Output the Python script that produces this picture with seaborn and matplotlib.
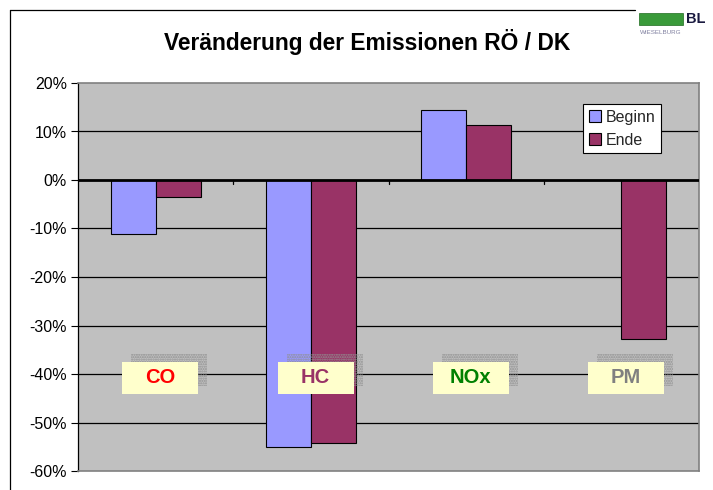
import matplotlib
matplotlib.use("Agg")
import matplotlib.pyplot as plt
from matplotlib.patches import Rectangle
from matplotlib.lines import Line2D
import seaborn as sns
import pandas as pd

categories = ["CO", "HC", "NOx", "PM"]
beginn = [-11.1, -55.1, 14.4, 0.0]
ende = [-3.6, -54.3, 11.3, -32.7]
series_names = ["Beginn", "Ende"]
series_colors = ["#9999FF", "#993366"]
label_colors = ["#FF0000", "#993366", "#008000", "#808080"]
yticks = [20, 10, 0, -10, -20, -30, -40, -50, -60]

rows = []
for c, b, e in zip(categories, beginn, ende):
    rows.append({"cat": c, "series": "Beginn", "val": b})
    rows.append({"cat": c, "series": "Ende", "val": e})
df = pd.DataFrame(rows)

sns.set_theme(style="white")
plt.rcParams["font.family"] = ["Liberation Sans", "DejaVu Sans"]

fig = plt.figure(figsize=(7.13, 4.9), dpi=100)
fig.patch.set_facecolor("white")
ax = fig.add_axes([78/713, 19/490, (699-78)/713, (471-83)/490])
ax.set_facecolor("#C0C0C0")

sns.barplot(data=df, x="cat", y="val", hue="series", order=categories,
            hue_order=series_names, palette=series_colors, width=0.58,
            gap=0, edgecolor="black", linewidth=0.8, ax=ax, legend=True,
            saturation=1, zorder=3)

ax.set_ylim(-60, 20)
ax.set_xlim(-0.5, 3.5)
ax.set_yticks(yticks)
ax.set_yticklabels([f"{t}%" for t in yticks], fontsize=11.5, color="black")
ax.set_xticks([])
ax.set_xlabel("")
ax.set_ylabel("")
ax.tick_params(axis="y", direction="out", length=5, width=0.8, color="black", pad=3, left=True)
for t in yticks:
    if t not in (20, -60, 0):
        ax.axhline(t, color="black", linewidth=0.9, zorder=1)
ax.axhline(0, color="black", linewidth=2, zorder=4)
for xb in [0.5, 1.5, 2.5]:
    ax.plot([xb, xb], [0, -0.9], color="black", linewidth=0.9, zorder=4)

for s in ["top", "right", "bottom"]:
    ax.spines[s].set_color("#808080")
    ax.spines[s].set_linewidth(1.2)
ax.spines["left"].set_color("black")
ax.spines["left"].set_linewidth(0.9)

# category label boxes
bw = 76/155.25
bh = 32/48.5*10
for i, (c, col) in enumerate(zip(categories, label_colors)):
    cx = i + 0.03
    cy = -40.8
    sh = Rectangle((cx - bw/2 + 9/155.25, cy - bh/2 + 8/4.85), bw, bh,
                   facecolor="none", edgecolor="#909090", linewidth=0,
                   hatch=".......", zorder=5)
    ax.add_patch(sh)
    box = Rectangle((cx - bw/2, cy - bh/2), bw, bh, facecolor="#FFFFCC",
                    edgecolor="none", zorder=6)
    ax.add_patch(box)
    ax.text(cx, cy, c, ha="center", va="center", fontsize=14.5,
            fontweight="bold", color=col, zorder=7)

leg = ax.legend(loc="upper left", bbox_to_anchor=((583-78)/621, (471-104)/388),
                frameon=True, fontsize=11.5, fancybox=False, handlelength=0.75,
                handleheight=0.75, handletextpad=0.3, borderpad=0.35,
                labelspacing=0.5, borderaxespad=0)
leg.get_frame().set_edgecolor("black")
leg.get_frame().set_linewidth(0.8)
leg.get_frame().set_facecolor("white")
leg.get_frame().set_alpha(1)
leg.set_zorder(10)

fig.text(367/713, 1-42/490, "Veränderung der Emissionen RÖ / DK", ha="center",
         va="center", fontsize=16.4, fontweight="bold", color="black")

# outer frame lines
fig.add_artist(Line2D([10/713, 635/713], [1-10/490, 1-10/490], color="black", linewidth=0.9))
fig.add_artist(Line2D([10/713, 10/713], [0, 1-10/490], color="black", linewidth=0.9))

# logo
fig.add_artist(Rectangle((639/713, 1-25/490), 44/713, 12/490, facecolor="#3A9A3A",
                         edgecolor="#1E6B1E", linewidth=0.5, transform=fig.transFigure))
fig.text(686/713, 1-19/490, "BL", ha="left", va="center", fontsize=10.5,
         fontweight="bold", color="#1A1A40")
fig.text(640/713, 1-32/490, "WIESELBURG", ha="left", va="center", fontsize=4.5,
         color="#8080A0")

fig.savefig("out.png", dpi=100)
